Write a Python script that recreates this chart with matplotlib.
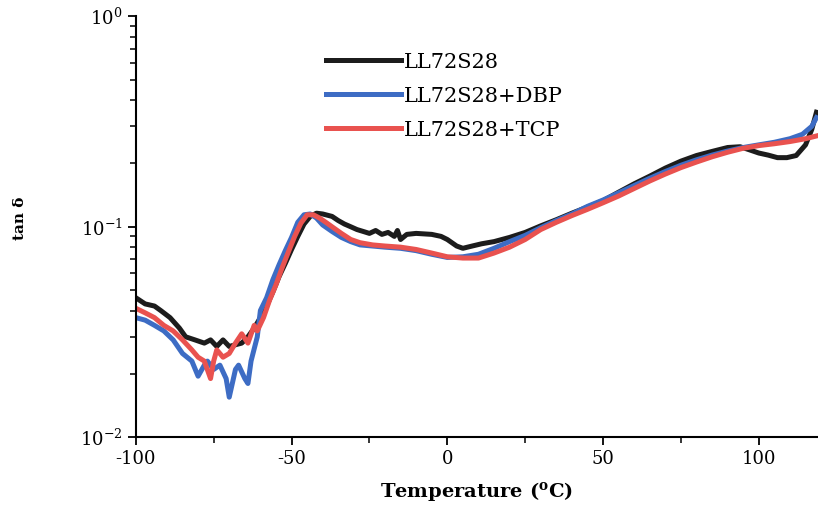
import matplotlib
matplotlib.use("Agg")
import matplotlib.pyplot as plt
from matplotlib.ticker import MultipleLocator, LogLocator, NullFormatter

plt.rcParams["font.family"] = ["DejaVu Serif"]
plt.rcParams["mathtext.fontset"] = "dejavuserif"
plt.rcParams["axes.unicode_minus"] = False

# LL72S28 (black)
t_base = [-100, -97, -94, -92, -89, -86, -84, -81, -78, -76, -74, -72, -70, -68, -66, -64,
          -62, -60, -58, -56, -54, -52, -50, -48, -46, -44, -42, -40, -37, -35, -33, -31,
          -29, -27, -25, -23, -21, -19, -17, -16, -15, -13, -10, -5, -2, 0, 3, 5, 8, 11,
          15, 20, 25, 30, 35, 40, 45, 50, 55, 60, 65, 70, 75, 80, 85, 90, 94, 97, 100,
          103, 106, 109, 112, 115, 117, 118.5]
tan_base = [0.046, 0.043, 0.042, 0.040, 0.037, 0.033, 0.030, 0.029, 0.028, 0.029, 0.027,
            0.029, 0.027, 0.0275, 0.028, 0.030, 0.033, 0.037, 0.042, 0.049, 0.058, 0.067,
            0.078, 0.090, 0.103, 0.112, 0.116, 0.115, 0.112, 0.107, 0.103, 0.100, 0.097,
            0.095, 0.093, 0.096, 0.092, 0.094, 0.090, 0.096, 0.087, 0.092, 0.093, 0.092,
            0.090, 0.087, 0.081, 0.079, 0.081, 0.083, 0.085, 0.089, 0.094, 0.101, 0.108,
            0.116, 0.124, 0.133, 0.146, 0.160, 0.174, 0.190, 0.205, 0.218, 0.228, 0.238,
            0.240, 0.232, 0.224, 0.219, 0.213, 0.213, 0.218, 0.245, 0.29, 0.35]

# LL72S28+DBP (blue)
t_dbp = [-100, -97, -94, -91, -88, -85, -82, -80, -78, -77, -75, -73, -71, -70, -68, -67,
         -65, -64, -63, -61, -60, -58, -56, -54, -52, -50, -48, -46, -44, -42, -40, -37,
         -34, -31, -28, -24, -20, -15, -10, -5, 0, 5, 10, 15, 20, 25, 30, 35, 40, 45, 50,
         55, 60, 65, 70, 75, 80, 85, 90, 95, 100, 105, 110, 114, 117, 118.5]
tan_dbp = [0.037, 0.036, 0.034, 0.032, 0.029, 0.025, 0.023, 0.0195, 0.022, 0.023, 0.021,
           0.022, 0.019, 0.0155, 0.021, 0.022, 0.019, 0.018, 0.023, 0.030, 0.040, 0.046,
           0.056, 0.066, 0.077, 0.089, 0.105, 0.114, 0.115, 0.110, 0.102, 0.095, 0.089,
           0.085, 0.082, 0.081, 0.080, 0.079, 0.077, 0.074, 0.0715, 0.072, 0.074, 0.079,
           0.085, 0.091, 0.099, 0.107, 0.115, 0.125, 0.134, 0.145, 0.157, 0.170, 0.183,
           0.196, 0.208, 0.219, 0.229, 0.238, 0.245, 0.252, 0.262, 0.275, 0.30, 0.33]

# LL72S28+TCP (red)
t_tcp = [-100, -97, -94, -91, -88, -85, -82, -80, -78, -76, -75, -74, -72, -70, -68, -66,
         -64, -62, -61, -59, -57, -55, -53, -51, -49, -47, -45, -43, -41, -39, -37, -34,
         -31, -28, -24, -20, -15, -10, -5, 0, 5, 10, 15, 20, 25, 30, 35, 40, 45, 50, 55,
         60, 65, 70, 75, 80, 85, 90, 95, 100, 105, 110, 115, 118.5]
tan_tcp = [0.041, 0.039, 0.037, 0.034, 0.032, 0.029, 0.026, 0.024, 0.023, 0.019, 0.023,
           0.026, 0.024, 0.025, 0.028, 0.031, 0.028, 0.034, 0.032, 0.037, 0.045, 0.053,
           0.064, 0.076, 0.090, 0.104, 0.114, 0.114, 0.110, 0.105, 0.100, 0.093, 0.087,
           0.084, 0.082, 0.081, 0.080, 0.078, 0.075, 0.072, 0.071, 0.071, 0.075, 0.080,
           0.087, 0.097, 0.105, 0.113, 0.121, 0.130, 0.140, 0.152, 0.165, 0.178, 0.191,
           0.203, 0.215, 0.226, 0.236, 0.243, 0.248, 0.254, 0.262, 0.27]

labels = ["LL72S28", "LL72S28+DBP", "LL72S28+TCP"]
colors = ["#1c1c1c", "#3d6cc4", "#e9524f"]

fig = plt.figure(figsize=(8.18, 5.09), dpi=100)
ax = fig.add_axes([0.166, 0.141, 0.834, 0.827])

for t, v, lab, c in zip([t_base, t_dbp, t_tcp], [tan_base, tan_dbp, tan_tcp], labels, colors):
    ax.plot(t, v, color=c, lw=3.6, label=lab, solid_joinstyle="round")

ax.set_yscale("log")
ax.set_ylim(1e-2, 1)
ax.set_xlim(-100, 119)

ax.xaxis.set_major_locator(MultipleLocator(50))
ax.xaxis.set_minor_locator(MultipleLocator(25))
ax.yaxis.set_major_locator(LogLocator(base=10))
ax.yaxis.set_minor_locator(LogLocator(base=10, subs=range(2, 10)))
ax.yaxis.set_minor_formatter(NullFormatter())

ax.spines["top"].set_visible(False)
ax.spines["right"].set_visible(False)
for s in ("left", "bottom"):
    ax.spines[s].set_linewidth(1.5)

ax.tick_params(which="major", direction="out", length=6, width=1.3, labelsize=13)
ax.tick_params(which="minor", direction="out", length=4, width=1.1)

ax.set_xlabel("Temperature ($^{\\mathbf{o}}$C)", fontsize=14, fontweight="bold", labelpad=8)
ax.set_ylabel("tan \u03b4", fontsize=11, fontweight="bold")
ax.yaxis.set_label_coords(-0.16, 0.52)

leg = ax.legend(loc="upper left", bbox_to_anchor=(0.252, 0.958), frameon=False,
                fontsize=15, handlelength=3.6, handletextpad=0.1, labelspacing=0.72)

fig.savefig("out.png", dpi=100)
